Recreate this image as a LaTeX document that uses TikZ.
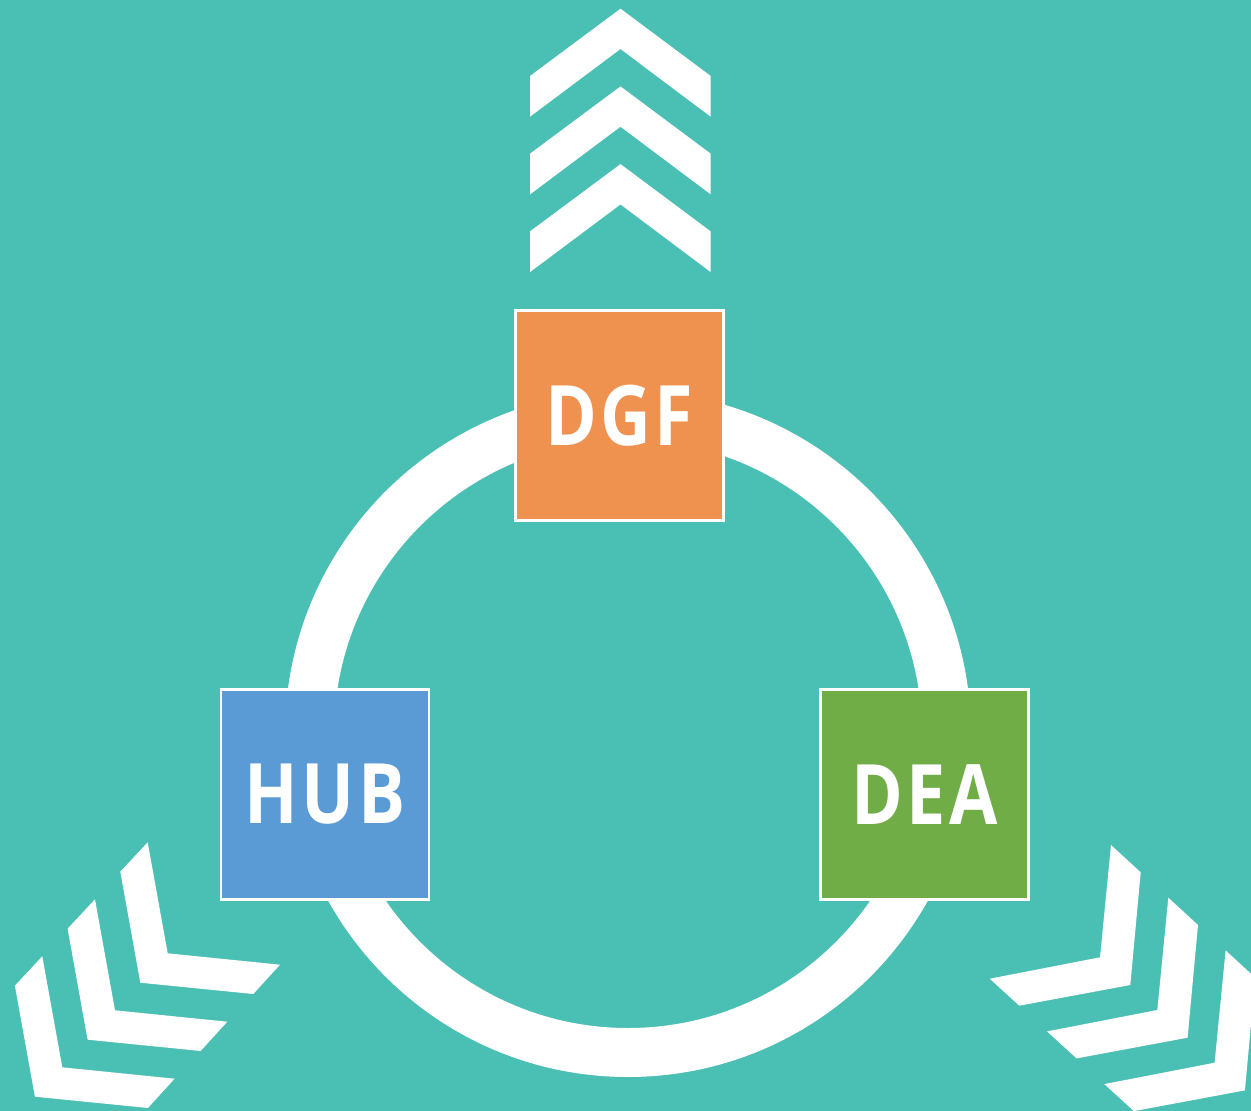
\documentclass[tikz,border=0pt]{standalone}
\usepackage{fontspec}
\setmainfont{Open Sans}
\newfontfamily\boxfont[FakeStretch=0.84, LetterSpace=4]{Open Sans}
\usepackage{xcolor}
\usepackage{tikz}
\usetikzlibrary{positioning}

\definecolor{teal bg}{HTML}{4ABFB4}
\definecolor{dgf orange}{HTML}{EF9250}
\definecolor{hub blue}{HTML}{5B9BD5}
\definecolor{dea green}{HTML}{70AD47}

\tikzset{
    unitbox/.style={draw=white, line width=0.05cm, minimum width=4.17cm, minimum height=4.2cm,
        inner sep=0pt, text=white, font=\boxfont\bfseries\fontsize{47.5}{47.5}\selectfont},
    chevron/.style={fill=white, draw=none}
}

\begin{document}
\begin{tikzpicture}[x=0.02cm, y=-0.02cm]
                \fill[teal bg] (0,0) rectangle (1251,1111);
                \useasboundingbox (0,0) rectangle (1251,1111);

                % ring
                \coordinate (c) at (628,734);
                \draw[white, line width=0.98cm] (c) circle[radius=318.5];

                % chevrons up
                \foreach \k in {0,1,2}
                    \fill[chevron, shift={(0,77.7*\k)}] (530,76) -- (620.5,8.7) -- (710.7,76)
                        -- (710.7,116.7) -- (620.5,49) -- (530,116.7) -- cycle;

                % chevrons down left
                \foreach \k in {0,1,2}
                    \fill[chevron, shift={(-52.7*\k,57*\k)}] (147.7,842.3) -- (120.3,871.7) -- (140.3,982.7)
                        -- (253.3,994) -- (280,964.7) -- (167.7,953.3) -- cycle;

                % chevrons down right
                \foreach \k in {0,1,2}
                    \fill[chevron, shift={(57.3*\k,52.7*\k)}] (1111,845) -- (1140.7,872.3) -- (1130.3,985)
                        -- (1019.3,1005.7) -- (989.7,978.7) -- (1100,957.3) -- cycle;

                % boxes
                \node[unitbox, fill=dgf orange] (dgf) at (619.5,415.5) {DGF};
                \node[unitbox, fill=hub blue] (hub) at (325,794.5) {HUB};
                \node[unitbox, fill=dea green] (dea) at (924.5,794.5) {DEA};
            \end{tikzpicture}
\end{document}
